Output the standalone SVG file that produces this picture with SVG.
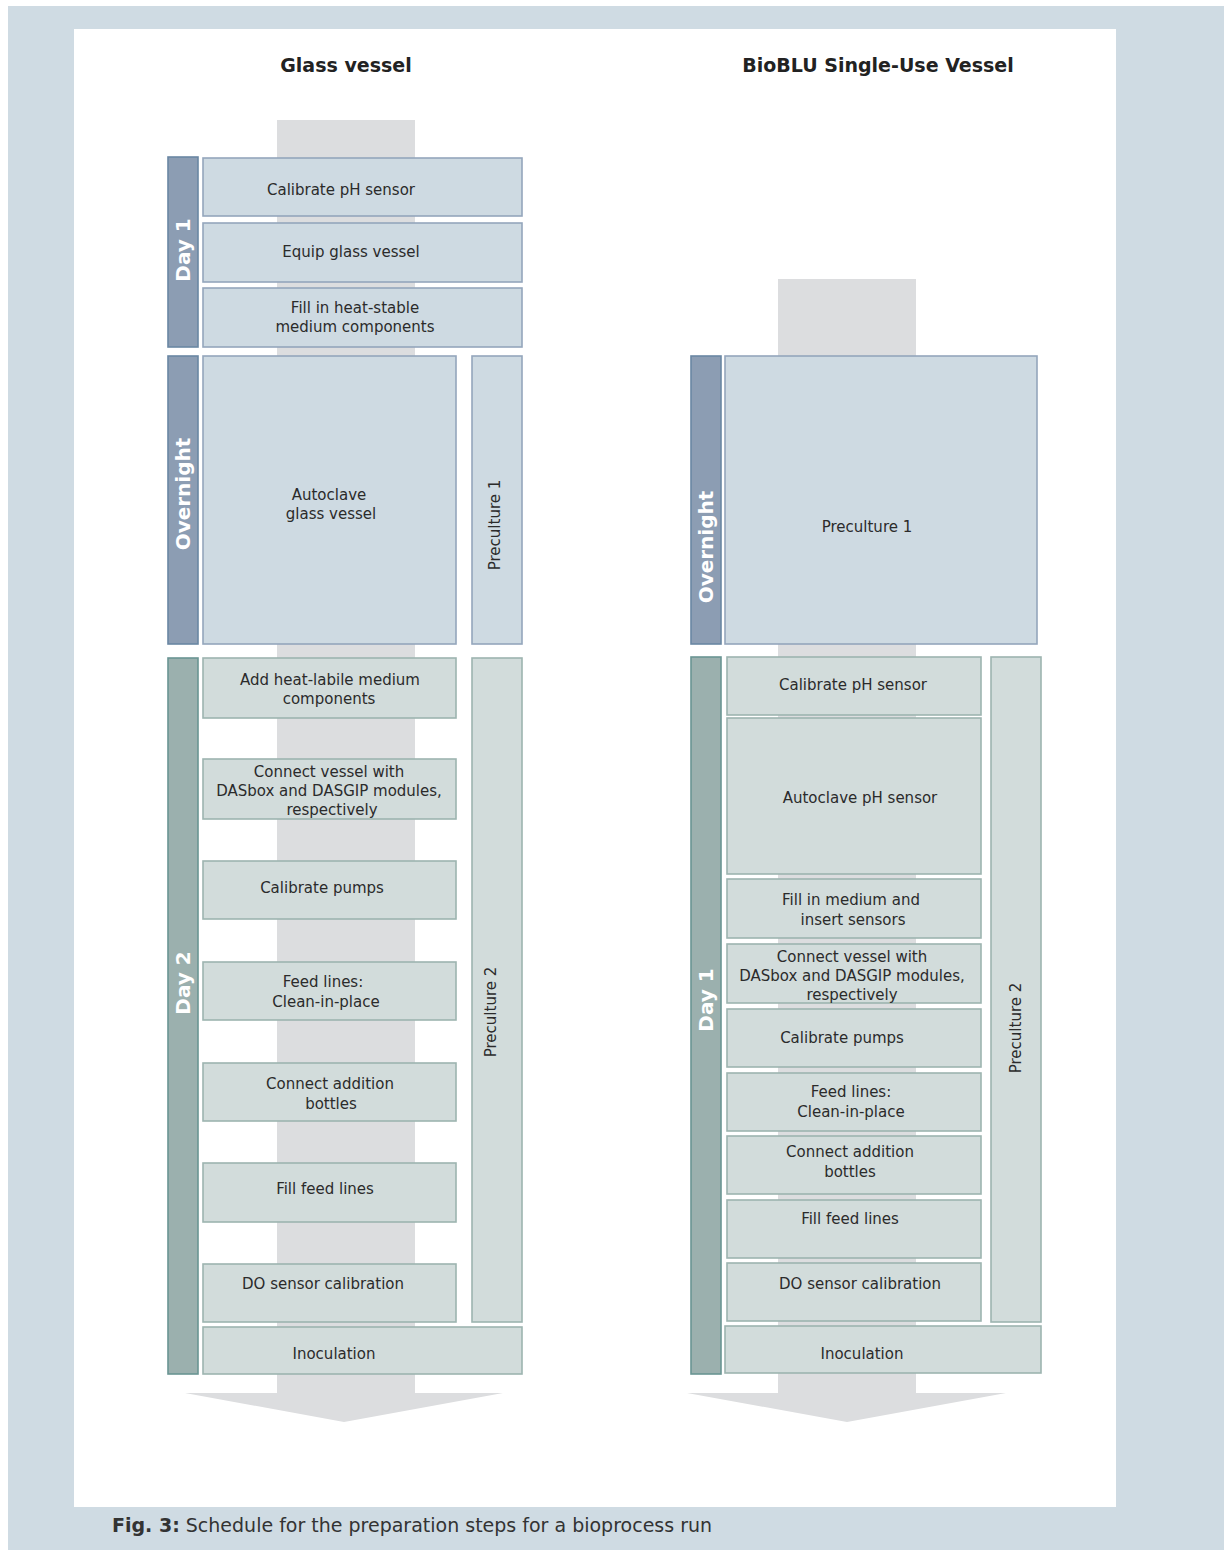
<svg xmlns="http://www.w3.org/2000/svg" width="1224" height="1550" viewBox="0 0 1224 1550">
<style>
.bg{fill:#CFDBE3}
.shaft{fill:#DCDDDF}
.bb{fill:#CEDAE2;stroke:#94A6BC;stroke-width:1.6}
.bd{fill:#8C9DB3;stroke:#6A87A3;stroke-width:1.6}
.gb{fill:#D2DCDB;stroke:#9DB4B0;stroke-width:1.6}
.gd{fill:#9BB0AE;stroke:#6A9593;stroke-width:1.6}
text{font-family:"DejaVu Sans","Liberation Sans",sans-serif}
.t{font-size:15px;fill:#2B2B2B;text-anchor:middle}
.h{font-size:19px;font-weight:bold;fill:#222;text-anchor:middle}
.d{font-size:20px;font-weight:bold;fill:#FFFFFF;text-anchor:middle}
.cap{font-size:19px;fill:#333}
</style>
<rect x="0" y="0" width="1224" height="1550" fill="#FFFFFF"/>
<rect class="bg" x="8" y="6" width="1216" height="1544"/>
<rect x="74" y="29" width="1042" height="1478" fill="#FFFFFF"/>
<text class="cap" x="112" y="1532"><tspan font-weight="bold">Fig. 3:</tspan> Schedule for the preparation steps for a bioprocess run</text>

<text class="h" x="346" y="72">Glass vessel</text>
<text class="h" x="878" y="72">BioBLU Single-Use Vessel</text>

<g id="flow-arrows">
<rect class="shaft" x="277" y="120" width="138" height="1273"/>
<polygon class="shaft" points="185,1393 503,1393 344,1422"/>
<rect class="shaft" x="778" y="279" width="138" height="1114"/>
<polygon class="shaft" points="687,1393 1006,1393 847,1422"/>
</g>

<!-- Left column: Glass vessel -->
<g id="g-day1"><rect class="bd" x="168" y="157" width="30" height="190"/><text class="d" transform="translate(183,250) rotate(-90)" y="7">Day 1</text></g>
<g id="g-calph"><rect class="bb" x="203" y="158" width="319" height="58"/><text class="t" x="341" y="195">Calibrate pH sensor</text></g>
<g id="g-equip"><rect class="bb" x="203" y="223" width="319" height="59"/><text class="t" x="351" y="257">Equip glass vessel</text></g>
<g id="g-fillstable"><rect class="bb" x="203" y="288" width="319" height="59"/><text class="t" x="355" y="313">Fill in heat-stable</text><text class="t" x="355" y="332">medium components</text></g>

<g id="g-overnight"><rect class="bd" x="168" y="356" width="30" height="288"/><text class="d" transform="translate(183,494) rotate(-90)" y="7">Overnight</text></g>
<g id="g-autoclave"><rect class="bb" x="203" y="356" width="253" height="288"/><text class="t" x="329" y="500">Autoclave</text><text class="t" x="331" y="519">glass vessel</text></g>
<g id="g-pre1"><rect class="bb" x="472" y="356" width="50" height="288"/><text class="t" transform="translate(495,525) rotate(-90)" y="5">Preculture 1</text></g>

<g id="g-day2"><rect class="gd" x="168" y="658" width="30" height="716"/><text class="d" transform="translate(183,983) rotate(-90)" y="7">Day 2</text></g>
<g id="g-addlabile"><rect class="gb" x="203" y="658" width="253" height="60"/><text class="t" x="330" y="685">Add heat-labile medium</text><text class="t" x="329" y="704">components</text></g>
<g id="g-connect"><rect class="gb" x="203" y="759" width="253" height="60"/><text class="t" x="329" y="777">Connect vessel with</text><text class="t" x="329" y="796">DASbox and DASGIP modules,</text><text class="t" x="332" y="815">respectively</text></g>
<g id="g-pumps"><rect class="gb" x="203" y="861" width="253" height="58"/><text class="t" x="322" y="893">Calibrate pumps</text></g>
<g id="g-feed"><rect class="gb" x="203" y="962" width="253" height="58"/><text class="t" x="323" y="987">Feed lines:</text><text class="t" x="326" y="1007">Clean-in-place</text></g>
<g id="g-addition"><rect class="gb" x="203" y="1063" width="253" height="58"/><text class="t" x="330" y="1089">Connect addition</text><text class="t" x="331" y="1109">bottles</text></g>
<g id="g-fillfeed"><rect class="gb" x="203" y="1163" width="253" height="59"/><text class="t" x="325" y="1194">Fill feed lines</text></g>
<g id="g-do"><rect class="gb" x="203" y="1264" width="253" height="58"/><text class="t" x="323" y="1289">DO sensor calibration</text></g>
<g id="g-pre2"><rect class="gb" x="472" y="658" width="50" height="664"/><text class="t" transform="translate(491,1012) rotate(-90)" y="5">Preculture 2</text></g>
<g id="g-inoc"><rect class="gb" x="203" y="1327" width="319" height="47"/><text class="t" x="334" y="1359">Inoculation</text></g>

<!-- Right column: BioBLU -->
<g id="b-overnight"><rect class="bd" x="691" y="356" width="30" height="288"/><text class="d" transform="translate(706,547) rotate(-90)" y="7">Overnight</text></g>
<g id="b-pre1"><rect class="bb" x="725" y="356" width="312" height="288"/><text class="t" x="867" y="532">Preculture 1</text></g>

<g id="b-day1"><rect class="gd" x="691" y="657" width="30" height="717"/><text class="d" transform="translate(706,1000) rotate(-90)" y="7">Day 1</text></g>
<g id="b-calph"><rect class="gb" x="727" y="657" width="254" height="58"/><text class="t" x="853" y="690">Calibrate pH sensor</text></g>
<g id="b-autoph"><rect class="gb" x="727" y="718" width="254" height="156"/><text class="t" x="860" y="803">Autoclave pH sensor</text></g>
<g id="b-fillmed"><rect class="gb" x="727" y="879" width="254" height="59"/><text class="t" x="851" y="905">Fill in medium and</text><text class="t" x="853" y="925">insert sensors</text></g>
<g id="b-connect"><rect class="gb" x="727" y="944" width="254" height="59"/><text class="t" x="852" y="962">Connect vessel with</text><text class="t" x="852" y="981">DASbox and DASGIP modules,</text><text class="t" x="852" y="1000">respectively</text></g>
<g id="b-pumps"><rect class="gb" x="727" y="1009" width="254" height="58"/><text class="t" x="842" y="1043">Calibrate pumps</text></g>
<g id="b-feed"><rect class="gb" x="727" y="1073" width="254" height="58"/><text class="t" x="851" y="1097">Feed lines:</text><text class="t" x="851" y="1117">Clean-in-place</text></g>
<g id="b-addition"><rect class="gb" x="727" y="1136" width="254" height="58"/><text class="t" x="850" y="1157">Connect addition</text><text class="t" x="850" y="1177">bottles</text></g>
<g id="b-fillfeed"><rect class="gb" x="727" y="1200" width="254" height="58"/><text class="t" x="850" y="1224">Fill feed lines</text></g>
<g id="b-do"><rect class="gb" x="727" y="1263" width="254" height="58"/><text class="t" x="860" y="1289">DO sensor calibration</text></g>
<g id="b-pre2"><rect class="gb" x="991" y="657" width="50" height="665"/><text class="t" transform="translate(1016,1028) rotate(-90)" y="5">Preculture 2</text></g>
<g id="b-inoc"><rect class="gb" x="725" y="1326" width="316" height="47"/><text class="t" x="862" y="1359">Inoculation</text></g>
</svg>
